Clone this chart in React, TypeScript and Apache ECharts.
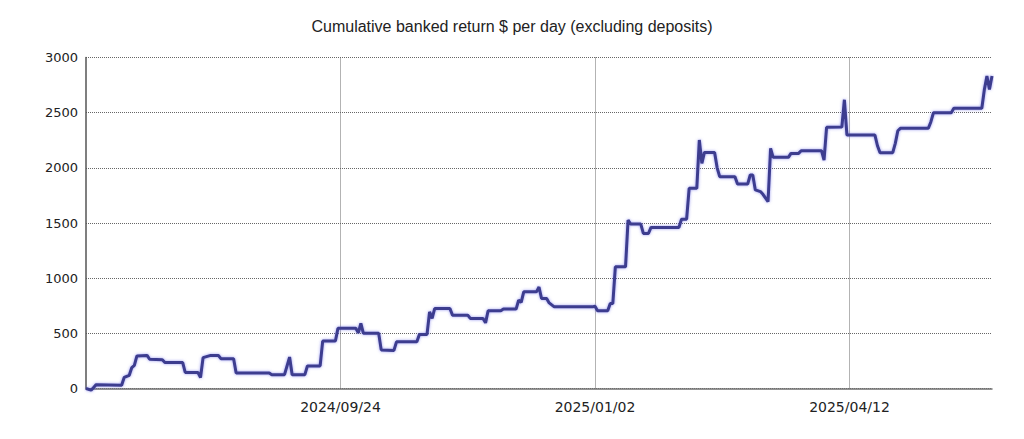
import React, { useEffect, useRef } from "react";
import * as echarts from "echarts";

const TITLE = "Cumulative banked return $ per day (excluding deposits)";
const START_DATE = "2024-06-16";
const END_DATE = "2025-06-07";
const LABEL_STEP_DAYS = 100;
const Y_TICKS = [0, 500, 1000, 1500, 2000, 2500, 3000];

const dates: string[] = [
  "2024-06-16", "2024-06-18", "2024-06-19", "2024-06-20", "2024-06-30", "2024-07-01",
  "2024-07-03", "2024-07-04", "2024-07-05", "2024-07-06", "2024-07-10", "2024-07-11",
  "2024-07-16", "2024-07-17", "2024-07-24", "2024-07-25", "2024-07-30", "2024-07-31",
  "2024-08-01", "2024-08-04", "2024-08-07", "2024-08-08", "2024-08-13", "2024-08-14",
  "2024-08-27", "2024-08-28", "2024-09-02", "2024-09-04", "2024-09-05", "2024-09-10",
  "2024-09-11", "2024-09-16", "2024-09-17", "2024-09-22", "2024-09-23", "2024-09-30",
  "2024-10-01", "2024-10-02", "2024-10-03", "2024-10-09", "2024-10-10", "2024-10-15",
  "2024-10-16", "2024-10-24", "2024-10-25", "2024-10-28", "2024-10-29", "2024-10-30",
  "2024-10-31", "2024-11-06", "2024-11-07", "2024-11-13", "2024-11-14", "2024-11-19",
  "2024-11-20", "2024-11-21", "2024-11-26", "2024-11-27", "2024-12-02", "2024-12-03",
  "2024-12-04", "2024-12-05", "2024-12-10", "2024-12-11", "2024-12-12", "2024-12-14",
  "2024-12-15", "2024-12-17", "2025-01-01", "2025-01-02", "2025-01-03", "2025-01-07",
  "2025-01-08", "2025-01-09", "2025-01-10", "2025-01-14", "2025-01-15", "2025-01-16",
  "2025-01-20", "2025-01-21", "2025-01-23", "2025-01-24", "2025-02-04", "2025-02-05",
  "2025-02-07", "2025-02-08", "2025-02-11", "2025-02-12", "2025-02-13", "2025-02-14",
  "2025-02-18", "2025-02-19", "2025-02-20", "2025-02-26", "2025-02-27", "2025-03-03",
  "2025-03-04", "2025-03-05", "2025-03-06", "2025-03-08", "2025-03-09", "2025-03-11",
  "2025-03-12", "2025-03-13", "2025-03-19", "2025-03-20", "2025-03-23", "2025-03-24",
  "2025-04-01", "2025-04-02", "2025-04-03", "2025-04-09", "2025-04-10", "2025-04-11",
  "2025-04-22", "2025-04-23", "2025-04-24", "2025-04-29", "2025-04-30", "2025-05-01",
  "2025-05-02", "2025-05-13", "2025-05-14", "2025-05-15", "2025-05-22", "2025-05-23",
  "2025-06-03", "2025-06-04", "2025-06-05", "2025-06-06", "2025-06-07",
];

const returns: number[] = [
  0, -15, 10, 35, 30, 100,
  120, 190, 210, 295, 300, 265,
  260, 235, 235, 145, 145, 100,
  280, 300, 300, 270, 270, 140,
  140, 125, 125, 285, 125, 125,
  205, 205, 430, 430, 545, 545,
  505, 590, 500, 500, 350, 345,
  423, 423, 490, 490, 695, 635,
  725, 725, 665, 665, 635, 635,
  595, 705, 705, 720, 720, 800,
  780, 876, 876, 920, 816, 816,
  776, 740, 740, 745, 705, 705,
  770, 770, 1103, 1103, 1527, 1490,
  1490, 1405, 1405, 1460, 1460, 1535,
  1535, 1814, 1814, 2252, 2040, 2140,
  2140, 2000, 1920, 1920, 1853, 1853,
  1935, 1935, 1800, 1785, 1760, 1693,
  2177, 2095, 2095, 2131, 2131, 2155,
  2155, 2070, 2367, 2370, 2617, 2297,
  2297, 2200, 2137, 2137, 2222, 2336,
  2358, 2358, 2418, 2500, 2500, 2540,
  2540, 2710, 2833, 2710, 2833,
];

const DAY_MS = 86400000;
const dayOffset = (d: string) =>
  Math.round((Date.parse(d) - Date.parse(START_DATE)) / DAY_MS);
const dateLabel = (offset: number) => {
  const dt = new Date(Date.parse(START_DATE) + offset * DAY_MS);
  const y = dt.getUTCFullYear();
  const m = String(dt.getUTCMonth() + 1).padStart(2, "0");
  const d = String(dt.getUTCDate()).padStart(2, "0");
  return `${y}/${m}/${d}`;
};

export default function App() {
  const ref = useRef<HTMLDivElement>(null);

  useEffect(() => {
    document.body.style.margin = "0";
    if (!ref.current) return;
    const chart = echarts.init(ref.current, undefined, { renderer: "svg" });
    const seriesData = dates.map((d, i) => [dayOffset(d), returns[i]]);
    const maxDay = dayOffset(END_DATE);

    chart.setOption({
      animation: false,
      backgroundColor: "#ffffff",
      title: {
        text: TITLE,
        left: "center",
        top: 13,
        textStyle: {
          fontFamily: "Liberation Sans",
          fontSize: 16,
          fontWeight: "normal",
          color: "#222222",
        },
      },
      grid: { left: 86, right: 32, top: 57.5, bottom: 50.5, containLabel: false },
      xAxis: {
        type: "value",
        min: 0,
        max: maxDay,
        interval: LABEL_STEP_DAYS,
        axisLine: { show: true, lineStyle: { color: "#707070", width: 1.5 } },
        axisTick: { show: false },
        axisLabel: {
          showMinLabel: false,
          showMaxLabel: false,
          margin: 11,
          fontFamily: "DejaVu Sans",
          fontSize: 14,
          color: "#222222",
          formatter: (v: number) =>
            v > 0 && v % LABEL_STEP_DAYS === 0 ? dateLabel(v) : "",
        },
        splitLine: {
          show: true,
          showMinLine: false,
          showMaxLine: false,
          lineStyle: { type: [1, 1], color: "#666666", width: 1 },
        },
      },
      yAxis: {
        type: "value",
        min: Y_TICKS[0],
        max: Y_TICKS[Y_TICKS.length - 1],
        interval: Y_TICKS[1] - Y_TICKS[0],
        axisLine: { show: true, lineStyle: { color: "#555555", width: 1.5 } },
        axisTick: { show: false },
        axisLabel: {
          margin: 8,
          fontFamily: "DejaVu Sans",
          fontSize: 13,
          color: "#222222",
          formatter: (v: number) => String(v),
        },
        splitLine: {
          show: true,
          lineStyle: { type: [1, 1], color: "#666666", width: 1 },
        },
      },
      series: [
        {
          type: "line",
          data: seriesData,
          showSymbol: false,
          symbol: "none",
          clip: false,
          lineStyle: {
            color: "#3d3d8f",
            width: 3,
            shadowColor: "rgba(90,90,230,0.6)",
            shadowBlur: 3,
          },
        },
      ],
    });

    return () => chart.dispose();
  }, []);

  return <div ref={ref} style={{ width: 1024, height: 439 }} />;
}
